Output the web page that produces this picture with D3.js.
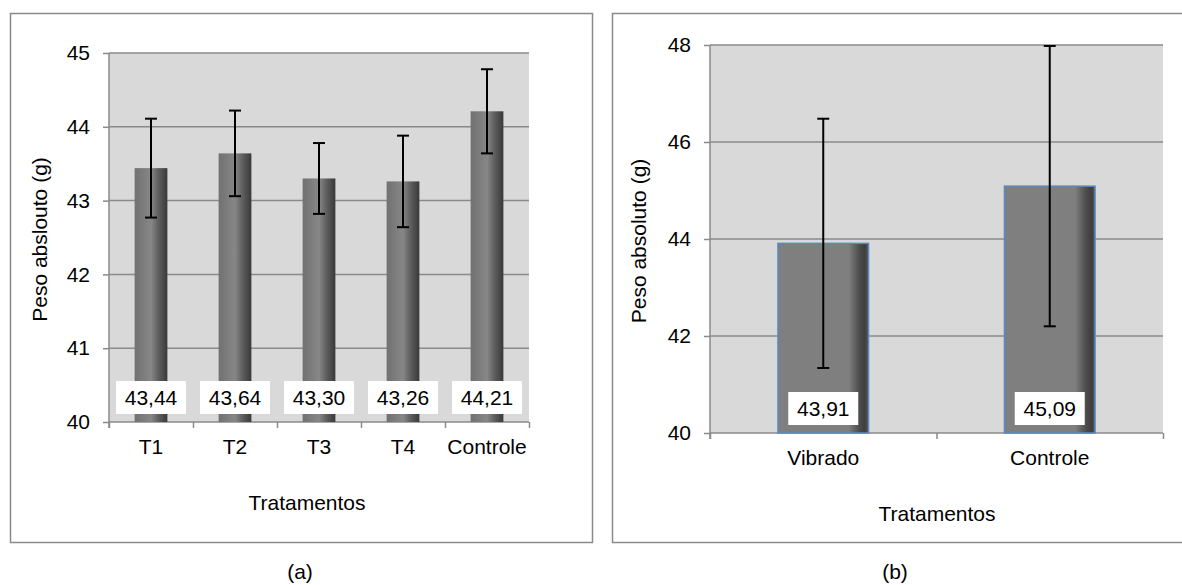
<!DOCTYPE html>
<html>
<head>
<meta charset="utf-8">
<script src="https://cdn.jsdelivr.net/npm/d3@7"></script>
<style>
  html, body { margin: 0; padding: 0; background: #fff; }
  svg { display: block; font-family: "Liberation Sans", Arial, sans-serif; }
</style>
</head>
<body>
<svg id="fig" width="1182" height="585"></svg>
<script>
// Panel (a): treatments T1–T4 and control
const groupsA = ["T1", "T2", "T3", "T4", "Controle"];
const meansA = [43.44, 43.64, 43.30, 43.26, 44.21];
const errA = [0.67, 0.58, 0.48, 0.62, 0.57];
const ticksA = [40, 41, 42, 43, 44, 45];

// Panel (b): vibrated vs control
const groupsB = ["Vibrado", "Controle"];
const meansB = [43.91, 45.09];
const errB = [2.57, 2.89];
const ticksB = [40, 42, 44, 46, 48];

const FS = 21;
const ptBR = d3.formatLocale({ decimal: ",", thousands: ".", grouping: [3], currency: ["R$", ""] });
const fmt = ptBR.format(".2f");

const svg = d3.select("#fig");
const defs = svg.append("defs");

// Shaded bar fills
const gA = defs.append("linearGradient").attr("id", "barA").attr("x1", "0").attr("x2", "1").attr("y1", "0").attr("y2", "0");
[[0, "#717171"], [0.5, "#878787"], [0.72, "#606060"], [1, "#393939"]]
  .forEach(([o, c]) => gA.append("stop").attr("offset", o).attr("stop-color", c));
const gB = defs.append("linearGradient").attr("id", "barB").attr("x1", "0").attr("x2", "1").attr("y1", "0").attr("y2", "0");
[[0, "#7f7f7f"], [0.78, "#7f7f7f"], [0.9, "#4c4c4c"], [0.96, "#3e3e3e"], [1, "#555555"]]
  .forEach(([o, c]) => gB.append("stop").attr("offset", o).attr("stop-color", c));

function panel(cfg) {
  const g = svg.append("g");

  // chart frame
  g.append("rect")
    .attr("x", cfg.frame[0]).attr("y", cfg.frame[1])
    .attr("width", cfg.frame[2]).attr("height", cfg.frame[3])
    .attr("fill", "#fff").attr("stroke", "#8a8a8a").attr("stroke-width", 1.5);

  const x = d3.scaleBand().domain(cfg.groups).range([cfg.left, cfg.right]).padding(0);
  const y = d3.scaleLinear().domain([cfg.ticks[0], cfg.ticks[cfg.ticks.length - 1]]).range([cfg.bottom, cfg.top]);

  // plot area
  g.append("rect")
    .attr("x", cfg.left).attr("y", cfg.top)
    .attr("width", cfg.right - cfg.left).attr("height", cfg.bottom - cfg.top)
    .attr("fill", "#d9d9d9");

  // gridlines
  g.append("g").selectAll("line").data(cfg.ticks.slice(1)).join("line")
    .attr("x1", cfg.left).attr("x2", cfg.right)
    .attr("y1", d => y(d)).attr("y2", d => y(d))
    .attr("stroke", "#8a8a8a").attr("stroke-width", 1.5);

  // y axis
  const ya = g.append("g").attr("transform", `translate(${cfg.left},0)`)
    .call(d3.axisLeft(y).tickValues(cfg.ticks).tickSize(6).tickPadding(13).tickFormat(d3.format("d")));
  ya.select(".domain").attr("stroke", "#8a8a8a").attr("stroke-width", 1.5)
    .attr("d", `M0,${cfg.top}V${cfg.bottom + 6}`);
  ya.selectAll(".tick line").attr("stroke", "#8a8a8a").attr("stroke-width", 1.5);
  ya.selectAll(".tick text").attr("font-size", FS).attr("fill", "#000")
    .attr("font-family", "Liberation Sans, Arial, sans-serif");

  // x axis: boundary ticks
  const xb = d3.scaleLinear().domain([0, cfg.groups.length]).range([cfg.left, cfg.right]);
  const xa = g.append("g").attr("transform", `translate(0,${cfg.bottom})`)
    .call(d3.axisBottom(xb).tickValues(d3.range(cfg.groups.length + 1)).tickSize(6).tickFormat(""));
  xa.select(".domain").attr("stroke", "#8a8a8a").attr("stroke-width", 1.5)
    .attr("d", `M${cfg.left},0H${cfg.right}`);
  xa.selectAll(".tick line").attr("stroke", "#8a8a8a").attr("stroke-width", 1.5);

  // x axis: category labels
  const xl = g.append("g").attr("transform", `translate(0,${cfg.bottom})`)
    .call(d3.axisBottom(x).tickSize(0).tickPadding(17));
  xl.select(".domain").remove();
  xl.selectAll(".tick text").attr("font-size", FS).attr("fill", "#000")
    .attr("font-family", "Liberation Sans, Arial, sans-serif");

  const bw = x.bandwidth() * cfg.barRatio;
  const cx = d => x(d) + x.bandwidth() / 2;

  // bars
  g.append("g").selectAll("rect").data(cfg.groups).join("rect")
    .attr("x", d => cx(d) - bw / 2)
    .attr("y", (d, i) => y(cfg.means[i]))
    .attr("width", bw)
    .attr("height", (d, i) => y(cfg.ticks[0]) - y(cfg.means[i]))
    .attr("fill", cfg.fill)
    .attr("stroke", cfg.barStroke)
    .attr("stroke-width", cfg.barStroke === "none" ? 0 : 1.5);

  // error bars
  const eb = g.append("g").attr("stroke", "#000").attr("stroke-width", 2);
  cfg.groups.forEach((d, i) => {
    const hi = y(cfg.means[i] + cfg.errs[i]);
    const lo = y(cfg.means[i] - cfg.errs[i]);
    const c = cx(d);
    eb.append("line").attr("x1", c).attr("x2", c).attr("y1", hi).attr("y2", lo);
    eb.append("line").attr("x1", c - 6).attr("x2", c + 6).attr("y1", hi).attr("y2", hi);
    eb.append("line").attr("x1", c - 6).attr("x2", c + 6).attr("y1", lo).attr("y2", lo);
  });

  // value labels at the foot of each bar
  const lab = g.append("g").selectAll("g").data(cfg.groups).join("g")
    .attr("transform", d => `translate(${cx(d)},${cfg.bottom - 8})`);
  lab.append("rect").attr("x", -35).attr("y", -33).attr("width", 70).attr("height", 33).attr("fill", "#fff");
  lab.append("text").attr("x", 0).attr("y", -9).attr("text-anchor", "middle")
    .attr("font-size", FS).attr("fill", "#000")
    .text((d, i) => fmt(cfg.means[i]));

  // axis titles
  g.append("text")
    .attr("transform", `translate(${cfg.yTitleX},${(cfg.top + cfg.bottom) / 2 + 2}) rotate(-90)`)
    .attr("text-anchor", "middle").attr("font-size", FS).attr("fill", "#000")
    .text(cfg.yTitle);
  g.append("text")
    .attr("x", cfg.xTitleX).attr("y", cfg.bottom + 88)
    .attr("text-anchor", "middle").attr("font-size", FS).attr("fill", "#000")
    .text("Tratamentos");

  // panel caption
  svg.append("text")
    .attr("x", cfg.captionX).attr("y", 579)
    .attr("text-anchor", "middle").attr("font-size", FS).attr("fill", "#000")
    .text(cfg.caption);
}

panel({
  groups: groupsA, means: meansA, errs: errA, ticks: ticksA,
  frame: [10.5, 13.5, 582, 529],
  left: 109, right: 529, top: 53, bottom: 422,
  barRatio: 0.39, fill: "url(#barA)", barStroke: "none",
  yTitle: "Peso abslouto (g)", yTitleX: 47, xTitleX: 307,
  caption: "(a)", captionX: 300
});

panel({
  groups: groupsB, means: meansB, errs: errB, ticks: ticksB,
  frame: [612.5, 13.5, 600, 529],
  left: 710, right: 1163, top: 45, bottom: 433,
  barRatio: 0.40, fill: "url(#barB)", barStroke: "#5a88c6",
  yTitle: "Peso absoluto (g)", yTitleX: 646, xTitleX: 937,
  caption: "(b)", captionX: 895
});
</script>
</body>
</html>
